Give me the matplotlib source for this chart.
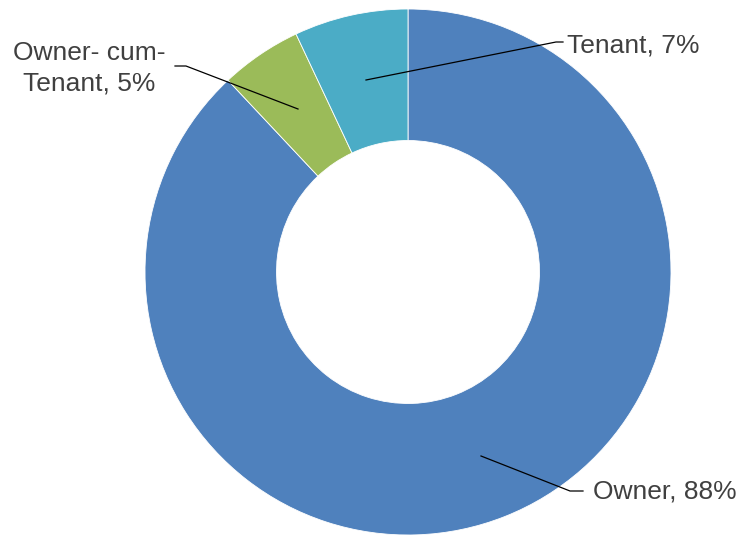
import matplotlib
matplotlib.use("Agg")
from matplotlib import pyplot as plt

labels = ["Owner", "Owner- cum-\nTenant", "Tenant"]
shares = [88, 5, 7]
colors = ["#4F81BD", "#9BBB59", "#4BACC6"]

# label text position, leader line points (pixel coords, y measured from the top)
label_pos = [(593, 491, "left"), (89, 68, "center"), (567, 46, "left")]
leaders = [
    [(481, 456), (570, 491), (583, 491)],
    [(298, 109), (186, 66), (175, 66)],
    [(366, 80), (556, 42), (563, 42)],
]

W, H = 742, 536
fig = plt.figure(figsize=(W / 100, H / 100), dpi=100)
ax = fig.add_axes([0, 0, 1, 1])

cx, cy, r = 408, H - 272, 263
ax.pie(shares, colors=colors, startangle=90, counterclock=False,
       radius=r, center=(cx, cy),
       wedgeprops=dict(width=r * 0.5, edgecolor="white", linewidth=0.6))

for (lab, val), (x, y, ha), pts in zip(zip(labels, shares), label_pos, leaders):
    xs = [p[0] for p in pts]
    ys = [H - p[1] for p in pts]
    ax.plot(xs, ys, color="black", lw=0.9)
    ax.text(x, H - y, f"{lab}, {val}%", ha=ha, va="center", fontsize=19,
            color="#404040", family="Liberation Sans", linespacing=1.35)

ax.set_xlim(0, W)
ax.set_ylim(0, H)
ax.set_aspect("equal")
ax.axis("off")

fig.savefig("out.png", dpi=100)
